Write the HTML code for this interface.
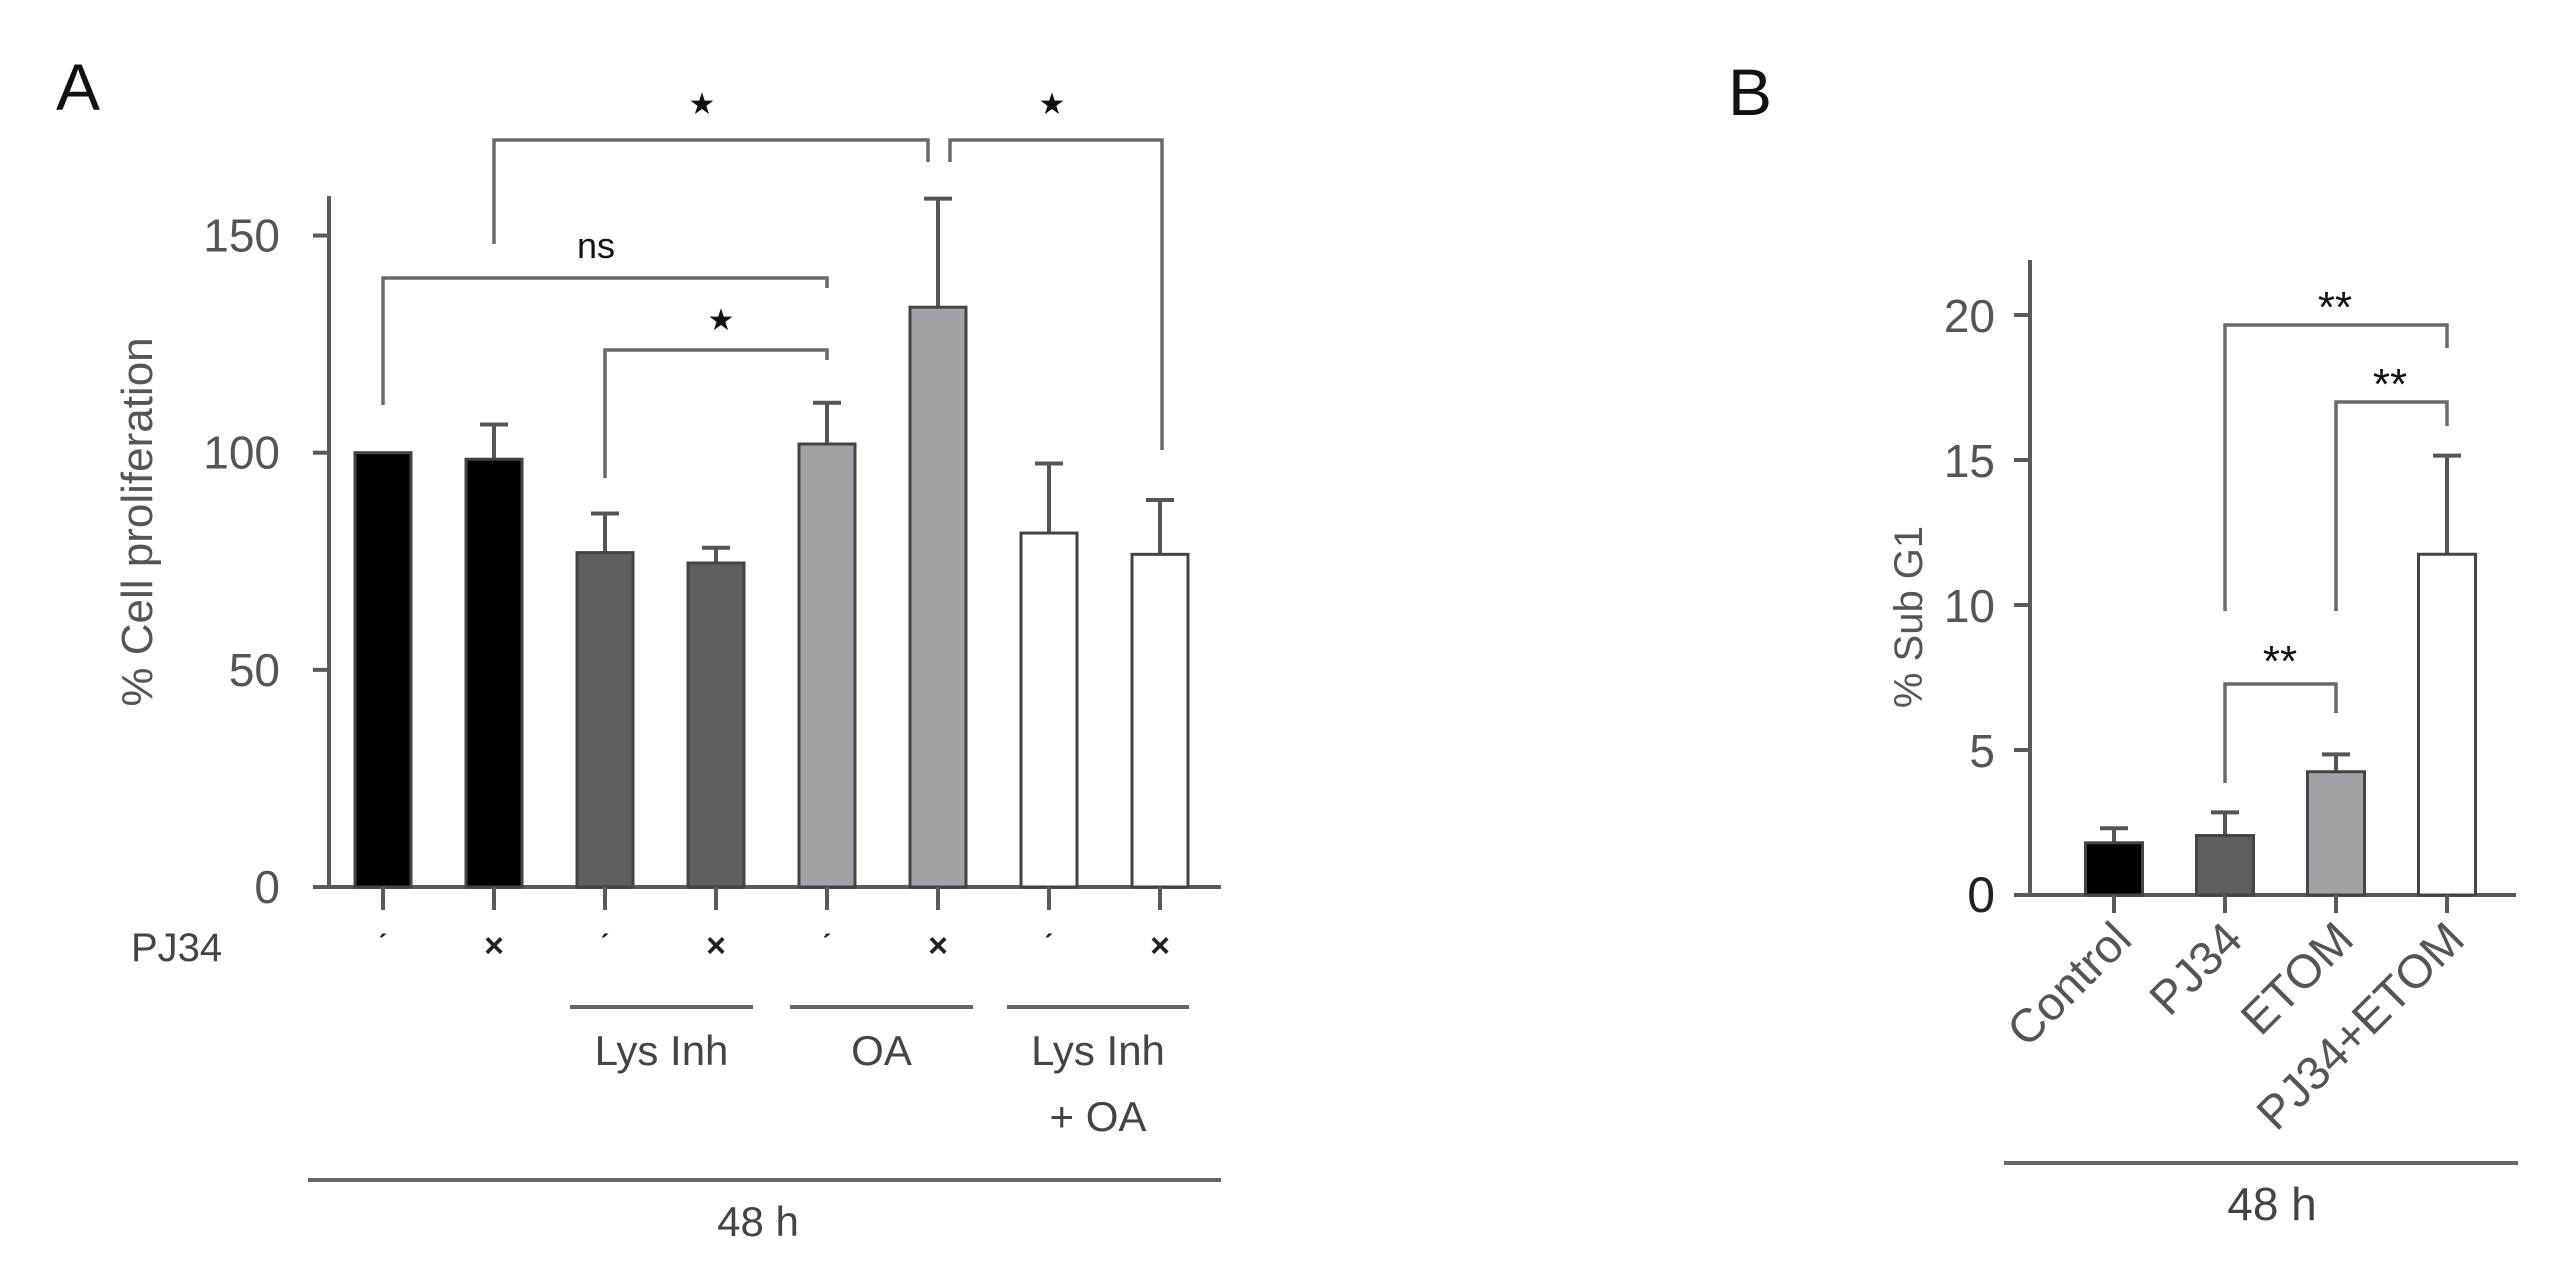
<!DOCTYPE html>
<html><head><meta charset="utf-8"><style>
html,body{margin:0;padding:0;background:#fff}
svg{display:block}
text{font-family:"Liberation Sans",sans-serif}
</style></head><body>
<svg id="fig" width="2575" height="1279" viewBox="0 0 2575 1279" xmlns="http://www.w3.org/2000/svg">
<text x="56" y="110" font-size="66" fill="#111">A</text>
<text x="1728" y="115" font-size="66" fill="#111">B</text>
<g id="ga"></g>
<g id="gb"></g>
</svg>
<script>
// Panel A data
const aValues = [100, 98.5, 77, 74.6, 102, 133.5, 81.5, 76.6];
const aErrors = [0, 8, 9, 3.5, 9.5, 25, 16, 12.5];
const aFills = ["#000000","#000000","#5e5e5e","#5e5e5e","#a3a3a7","#a3a3a7","#ffffff","#ffffff"];
const aPJ34 = ["-", "×", "-", "×", "-", "×", "-", "×"];
const aTicks = [0, 50, 100, 150];
// Panel B data
const bCategories = ["Control", "PJ34", "ETOM", "PJ34+ETOM"];
const bValues = [1.8, 2.05, 4.25, 11.75];
const bErrors = [0.5, 0.8, 0.6, 3.4];
const bFills = ["#000000","#5e5e5e","#a3a3a7","#ffffff"];
const bTicks = [0, 5, 10, 15, 20];

const NS = "http://www.w3.org/2000/svg";
function mk(parent, tag, attrs, txt){
  const e = document.createElementNS(NS, tag);
  for (const k in attrs) e.setAttribute(k, attrs[k]);
  if (txt !== undefined) e.textContent = txt;
  parent.appendChild(e); return e;
}
const AX = "#5a5a5a", BR = "#6a6a6a";

// ---------- Panel A ----------
const ga = document.getElementById("ga");
const ay = v => 887 - v * 4.343;
const ax = i => 383 + i * 111;
const aW = 56;
let e;
e = mk(ga, "line", {x1:329, y1:196, x2:329, y2:889, stroke:AX, "stroke-width":4});
 
e = mk(ga, "line", {x1:313, y1:887, x2:1221, y2:887, stroke:AX, "stroke-width":4});
 
aTicks.forEach(t => {
  e = mk(ga, "line", {x1:313, y1:ay(t), x2:329, y2:ay(t), stroke:AX, "stroke-width":4});
   
  e = mk(ga, "text", {x:280, y:ay(t)+16, "font-size":46, fill:"#555", "text-anchor":"end"}, String(t));
   
});
e = mk(ga, "text", {x:0, y:0, "font-size":44, fill:"#555", "text-anchor":"middle", transform:"translate(152,522) rotate(-90)"}, "% Cell proliferation");
 
aValues.forEach((v, i) => {
  const cx = ax(i);
  if (aErrors[i] > 0) {
    e = mk(ga, "line", {x1:cx, y1:ay(v), x2:cx, y2:ay(v+aErrors[i]), stroke:"#555", "stroke-width":4});
     
    e = mk(ga, "line", {x1:cx-14, y1:ay(v+aErrors[i]), x2:cx+14, y2:ay(v+aErrors[i]), stroke:"#555", "stroke-width":4});
     
  }
  e = mk(ga, "rect", {x:cx-aW/2, y:ay(v), width:aW, height:ay(0)-ay(v), fill:aFills[i], stroke:"#444", "stroke-width":3});
   
  e = mk(ga, "line", {x1:cx, y1:887, x2:cx, y2:910, stroke:AX, "stroke-width":4});
   
  e = mk(ga, "text", {x:cx, y:aPJ34[i]==="×"?957:955, "font-size":aPJ34[i]==="×"?34:30, fill:"#222", "text-anchor":"middle", "font-weight":"bold"}, aPJ34[i]==="×"?"×":"ˊ");
   
});
e = mk(ga, "text", {x:131, y:961, "font-size":40, fill:"#444"}, "PJ34");
 
[[570,753,"Lys Inh"],[790,973,"OA"],[1007,1189,"Lys Inh"]].forEach(g => {
  e = mk(ga, "line", {x1:g[0], y1:1007, x2:g[1], y2:1007, stroke:"#666", "stroke-width":4});
   
  e = mk(ga, "text", {x:(g[0]+g[1])/2, y:1065, "font-size":42, fill:"#444", "text-anchor":"middle"}, g[2]);
   
});
e = mk(ga, "text", {x:1098, y:1131, "font-size":42, fill:"#444", "text-anchor":"middle"}, "+ OA");
 
e = mk(ga, "line", {x1:308, y1:1180, x2:1221, y2:1180, stroke:"#666", "stroke-width":4});
 
e = mk(ga, "text", {x:758, y:1236, "font-size":42, fill:"#444", "text-anchor":"middle"}, "48 h");
 

function bracket(g, x1, y1, x2, y2, yh, label, ly, lx, fs, nm){
  const p = mk(g, "path", {d:`M${x1},${y1} L${x1},${yh} L${x2},${yh} L${x2},${y2}`, fill:"none", stroke:BR, "stroke-width":3.5});
   
  const t = mk(g, "text", {x:lx, y:ly, "font-size":fs, fill:"#111", "text-anchor":"middle"}, label);
   
}
bracket(ga, ax(0), 405, ax(4), 288, 278, "ns", 258, 596, 36, "bracket-ns");
bracket(ga, ax(2), 478, ax(4), 360, 350, "★", 330, 721, 30, "bracket-lys-oa");
bracket(ga, ax(1), 244, 928, 162, 140, "★", 114, 702, 30, "bracket-pj34-oa");
bracket(ga, 950, 162, 1162, 450, 140, "★", 114, 1052, 30, "bracket-oa-combo");

// ---------- Panel B ----------
const gb = document.getElementById("gb");
const by = v => 895 - v * 29;
const bx = i => 2114 + i * 111;
const bW = 57;
e = mk(gb, "line", {x1:2030, y1:260, x2:2030, y2:897, stroke:AX, "stroke-width":4});
 
e = mk(gb, "line", {x1:2014, y1:895, x2:2516, y2:895, stroke:AX, "stroke-width":4});
 
bTicks.forEach(t => {
  e = mk(gb, "line", {x1:2014, y1:by(t), x2:2030, y2:by(t), stroke:AX, "stroke-width":4});
   
  e = mk(gb, "text", {x:1995, y:by(t)+17, "font-size":t===0?50:46, fill:t===0?"#222":"#555", "text-anchor":"end"}, String(t));
   
});
e = mk(gb, "text", {x:0, y:0, "font-size":40, fill:"#555", "text-anchor":"middle", transform:"translate(1922,617) rotate(-90)"}, "% Sub G1");
 
bValues.forEach((v, i) => {
  const cx = bx(i);
  e = mk(gb, "line", {x1:cx, y1:by(v), x2:cx, y2:by(v+bErrors[i]), stroke:"#555", "stroke-width":4});
   
  e = mk(gb, "line", {x1:cx-14, y1:by(v+bErrors[i]), x2:cx+14, y2:by(v+bErrors[i]), stroke:"#555", "stroke-width":4});
   
  e = mk(gb, "rect", {x:cx-bW/2, y:by(v), width:bW, height:by(0)-by(v), fill:bFills[i], stroke:"#444", "stroke-width":3});
   
  e = mk(gb, "line", {x1:cx, y1:895, x2:cx, y2:913, stroke:AX, "stroke-width":4});
   
  e = mk(gb, "text", {x:0, y:0, "font-size":47, fill:"#555", "text-anchor":"end", transform:`translate(${cx+20},${942}) rotate(-45)`}, bCategories[i]);
   
});
e = mk(gb, "line", {x1:2004, y1:1163, x2:2518, y2:1163, stroke:"#666", "stroke-width":4});
 
e = mk(gb, "text", {x:2272, y:1220, "font-size":46, fill:"#444", "text-anchor":"middle"}, "48 h");
 
bracket(gb, bx(1), 611, bx(3), 348, 325, "**", 322, 2335, 44, "bracket-b-pj34-combo");
bracket(gb, bx(2), 611, bx(3), 426, 402, "**", 399, 2390, 44, "bracket-b-etom-combo");
bracket(gb, bx(1), 783, bx(2), 713, 684, "**", 676, 2280, 44, "bracket-b-pj34-etom");
</script>
</body></html>
